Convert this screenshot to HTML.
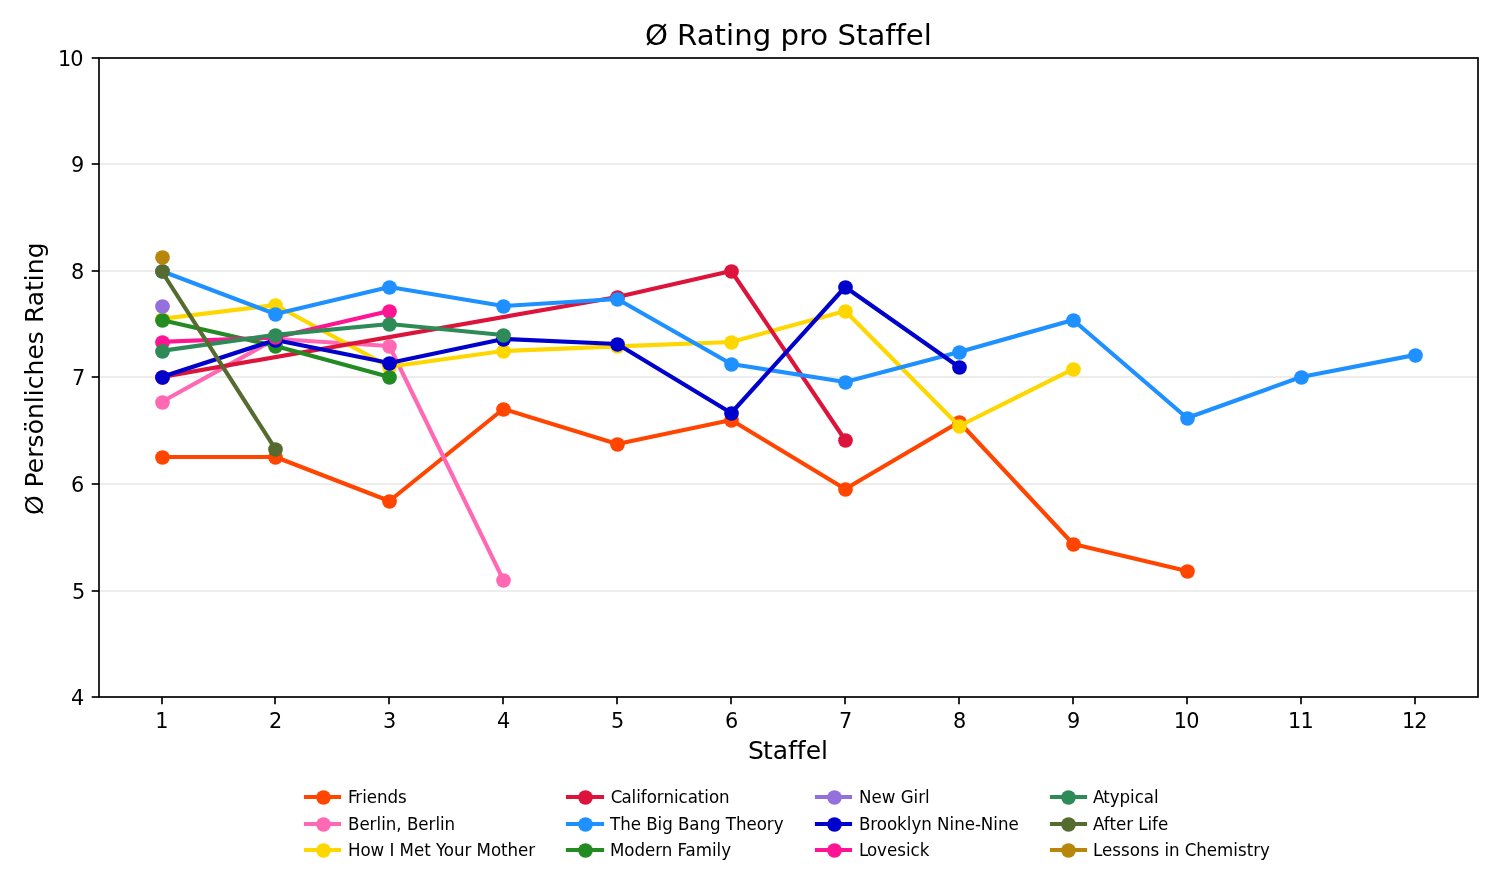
<!DOCTYPE html>
<html lang="de"><head><meta charset="utf-8"><title>Ø Rating pro Staffel</title>
<style>html,body{margin:0;padding:0;background:#fff;overflow:hidden}svg{display:block}text{font-family:"DejaVu Sans","Liberation Sans",sans-serif;fill:#000}.tk{font-size:20.83px}.lg{font-size:16.67px}.ax{font-size:25px}.ti{font-size:29.17px}</style></head><body>
<svg width="1500" height="885" viewBox="0 0 1500 885">
<rect width="1500" height="885" fill="#fff"/>
<g stroke="#b0b0b0" stroke-opacity="0.3" stroke-width="1.67">
<line x1="99" y1="58" x2="1478" y2="58"/>
<line x1="99" y1="164" x2="1478" y2="164"/>
<line x1="99" y1="271" x2="1478" y2="271"/>
<line x1="99" y1="377" x2="1478" y2="377"/>
<line x1="99" y1="484" x2="1478" y2="484"/>
<line x1="99" y1="591" x2="1478" y2="591"/>
<line x1="99" y1="697" x2="1478" y2="697"/>
</g>
<g fill="none" stroke-width="4.17" stroke-linejoin="round" stroke-linecap="square">
<g stroke="#FF4500"><polyline points="161.50,457.00 275.45,457.00 389.40,501.00 503.35,409.00 617.30,444.00 731.25,420.00 845.20,489.00 959.15,422.00 1073.10,544.00 1187.05,571.00"/><g fill="#FF4500" stroke="none"><circle cx="162.5" cy="457.5" r="7.33"/><circle cx="275.5" cy="457.5" r="7.33"/><circle cx="389.5" cy="501.5" r="7.33"/><circle cx="503.5" cy="409.5" r="7.33"/><circle cx="617.5" cy="444.5" r="7.33"/><circle cx="731.5" cy="420.5" r="7.33"/><circle cx="845.5" cy="489.5" r="7.33"/><circle cx="959.5" cy="422.5" r="7.33"/><circle cx="1073.5" cy="544.5" r="7.33"/><circle cx="1187.5" cy="571.5" r="7.33"/></g></g>
<g stroke="#FF69B4"><polyline points="161.50,402.00 275.45,339.00 389.40,346.00 503.35,580.00"/><g fill="#FF69B4" stroke="none"><circle cx="162.5" cy="402.5" r="7.33"/><circle cx="275.5" cy="339.5" r="7.33"/><circle cx="389.5" cy="346.5" r="7.33"/><circle cx="503.5" cy="580.5" r="7.33"/></g></g>
<g stroke="#FFD700"><polyline points="161.50,318.85 275.45,305.00 389.40,366.80 503.35,351.00 617.30,346.30 731.25,342.00 845.20,311.00 959.15,426.00 1073.10,369.00"/><g fill="#FFD700" stroke="none"><circle cx="162.5" cy="319.5" r="7.33"/><circle cx="275.5" cy="305.5" r="7.33"/><circle cx="389.5" cy="367.5" r="7.33"/><circle cx="503.5" cy="351.5" r="7.33"/><circle cx="617.5" cy="346.5" r="7.33"/><circle cx="731.5" cy="342.5" r="7.33"/><circle cx="845.5" cy="311.5" r="7.33"/><circle cx="959.5" cy="426.5" r="7.33"/><circle cx="1073.5" cy="369.5" r="7.33"/></g></g>
<g stroke="#DC143C"><polyline points="161.50,377.00 617.30,297.00 731.25,271.00 845.20,440.00"/><g fill="#DC143C" stroke="none"><circle cx="162.5" cy="377.5" r="7.33"/><circle cx="617.5" cy="297.5" r="7.33"/><circle cx="731.5" cy="271.5" r="7.33"/><circle cx="845.5" cy="440.5" r="7.33"/></g></g>
<g stroke="#1E90FF"><polyline points="161.50,271.00 275.45,314.00 389.40,287.00 503.35,306.00 617.30,299.00 731.25,364.00 845.20,382.00 959.15,352.00 1073.10,320.00 1187.05,418.00 1301.00,377.00 1414.95,355.00"/><g fill="#1E90FF" stroke="none"><circle cx="162.5" cy="271.5" r="7.33"/><circle cx="275.5" cy="314.5" r="7.33"/><circle cx="389.5" cy="287.5" r="7.33"/><circle cx="503.5" cy="306.5" r="7.33"/><circle cx="617.5" cy="299.5" r="7.33"/><circle cx="731.5" cy="364.5" r="7.33"/><circle cx="845.5" cy="382.5" r="7.33"/><circle cx="959.5" cy="352.5" r="7.33"/><circle cx="1073.5" cy="320.5" r="7.33"/><circle cx="1187.5" cy="418.5" r="7.33"/><circle cx="1301.5" cy="377.5" r="7.33"/><circle cx="1415.5" cy="355.5" r="7.33"/></g></g>
<g stroke="#228B22"><polyline points="161.50,320.00 275.45,346.00 389.40,377.00"/><g fill="#228B22" stroke="none"><circle cx="162.5" cy="320.5" r="7.33"/><circle cx="275.5" cy="346.5" r="7.33"/><circle cx="389.5" cy="377.5" r="7.33"/></g></g>
<g stroke="#9370DB"><g fill="#9370DB" stroke="none"><circle cx="162.5" cy="306.5" r="7.33"/></g></g>
<g stroke="#0000CD"><polyline points="161.50,377.00 275.45,340.00 389.40,363.00 503.35,339.00 617.30,344.00 731.25,413.00 845.20,287.00 959.15,367.00"/><g fill="#0000CD" stroke="none"><circle cx="162.5" cy="377.5" r="7.33"/><circle cx="275.5" cy="340.5" r="7.33"/><circle cx="389.5" cy="363.5" r="7.33"/><circle cx="503.5" cy="339.5" r="7.33"/><circle cx="617.5" cy="344.5" r="7.33"/><circle cx="731.5" cy="413.5" r="7.33"/><circle cx="845.5" cy="287.5" r="7.33"/><circle cx="959.5" cy="367.5" r="7.33"/></g></g>
<g stroke="#FF1493"><polyline points="161.50,341.92 275.45,337.48 389.40,311.00"/><g fill="#FF1493" stroke="none"><circle cx="162.5" cy="342.5" r="7.33"/><circle cx="275.5" cy="337.5" r="7.33"/><circle cx="389.5" cy="311.5" r="7.33"/></g></g>
<g stroke="#2E8B57"><polyline points="161.50,350.80 275.45,334.80 389.40,324.00 503.35,335.00"/><g fill="#2E8B57" stroke="none"><circle cx="162.5" cy="351.5" r="7.33"/><circle cx="275.5" cy="335.5" r="7.33"/><circle cx="389.5" cy="324.5" r="7.33"/><circle cx="503.5" cy="335.5" r="7.33"/></g></g>
<g stroke="#556B2F"><polyline points="161.50,271.00 275.45,449.00"/><g fill="#556B2F" stroke="none"><circle cx="162.5" cy="271.5" r="7.33"/><circle cx="275.5" cy="449.5" r="7.33"/></g></g>
<g stroke="#B8860B"><g fill="#B8860B" stroke="none"><circle cx="162.5" cy="257.5" r="7.33"/></g></g>
</g>
<g stroke="#000" stroke-width="1.67">
<line x1="162" y1="697" x2="162" y2="704.3"/>
<line x1="275" y1="697" x2="275" y2="704.3"/>
<line x1="389" y1="697" x2="389" y2="704.3"/>
<line x1="503" y1="697" x2="503" y2="704.3"/>
<line x1="617" y1="697" x2="617" y2="704.3"/>
<line x1="731" y1="697" x2="731" y2="704.3"/>
<line x1="845" y1="697" x2="845" y2="704.3"/>
<line x1="959" y1="697" x2="959" y2="704.3"/>
<line x1="1073" y1="697" x2="1073" y2="704.3"/>
<line x1="1187" y1="697" x2="1187" y2="704.3"/>
<line x1="1301" y1="697" x2="1301" y2="704.3"/>
<line x1="1415" y1="697" x2="1415" y2="704.3"/>
<line x1="99" y1="58" x2="91.7" y2="58"/>
<line x1="99" y1="164" x2="91.7" y2="164"/>
<line x1="99" y1="271" x2="91.7" y2="271"/>
<line x1="99" y1="377" x2="91.7" y2="377"/>
<line x1="99" y1="484" x2="91.7" y2="484"/>
<line x1="99" y1="591" x2="91.7" y2="591"/>
<line x1="99" y1="697" x2="91.7" y2="697"/>
</g>
<rect x="99" y="58" width="1379" height="639" fill="none" stroke="#000" stroke-width="1.67" stroke-linejoin="miter"/>
<g class="tk" text-anchor="middle">
<text x="161.78" y="728.05">1</text>
<text x="275.66" y="728.05">2</text>
<text x="389.67" y="728.05">3</text>
<text x="503.69" y="728.05">4</text>
<text x="617.72" y="728.05">5</text>
<text x="731.61" y="728.05">6</text>
<text x="845.59" y="728.05">7</text>
<text x="959.70" y="728.05">8</text>
<text x="1073.73" y="728.05">9</text>
<text x="1186.73" y="728.05" dx="0 -0.8">10</text>
<text x="1300.80" y="728.05" dx="0 -0.8">11</text>
<text x="1414.77" y="728.05" dx="0 -0.8">12</text>
</g>
<g class="tk" text-anchor="end">
<text x="83.63" y="65.98" dx="0 -0.9">10</text>
<text x="84.28" y="171.98">9</text>
<text x="84.30" y="278.98">8</text>
<text x="85.19" y="384.98">7</text>
<text x="84.21" y="491.98">6</text>
<text x="85.37" y="598.98">5</text>
<text x="84.19" y="704.98">4</text>
</g>
<text class="ti" x="644.96 667.84 677.08 696.71 714.58 726.08 734.21 752.71 771.21 780.46 798.96 810.34 828.21 837.46 855.96 867.46 885.34 895.58 905.84 923.71" y="45">Ø Rating pro Staffel</text>
<text class="ax" x="748.10 762.98 772.72 787.98 796.85 805.72 821.10" y="758.8">Staffel</text>
<text class="ax" transform="translate(43,515.01) rotate(-90)" x="0.00 19.62 27.62 41.88 57.25 67.62 80.75 96.00 111.88 118.88 125.88 139.62 155.50 170.88 184.00 192.00 208.88 224.12 233.88 240.88 256.75">Ø Persönliches Rating</text>
<g class="lg">
<line x1="303.92" y1="797" x2="341.08" y2="797" stroke="#FF4500" stroke-width="4.17"/>
<circle cx="323.5" cy="797.5" r="7.33" fill="#FF4500"/>
<text transform="translate(347.03,803) scale(1,1.070)" x="1.00 8.25 15.12 19.75 30.00 40.50 51.00">Friends</text>
<line x1="303.92" y1="824" x2="341.08" y2="824" stroke="#FF69B4" stroke-width="4.17"/>
<circle cx="323.5" cy="824.5" r="7.33" fill="#FF69B4"/>
<text transform="translate(348.01,830) scale(1,1.070)" x="0.00 11.38 21.62 28.50 33.12 37.75 48.25 53.62 58.88 70.25 80.50 87.38 92.00 96.62">Berlin, Berlin</text>
<line x1="303.92" y1="850" x2="341.08" y2="850" stroke="#FFD700" stroke-width="4.17"/>
<circle cx="323.5" cy="850.5" r="7.33" fill="#FFD700"/>
<text transform="translate(347.92,856) scale(1,1.070)" x="0.00 12.50 22.62 36.25 41.50 46.38 51.62 66.00 76.25 82.75 88.00 95.88 106.00 116.50 123.38 128.62 143.00 153.12 159.62 170.12 180.38">How I Met Your Mother</text>
<line x1="565.92" y1="797" x2="604.08" y2="797" stroke="#DC143C" stroke-width="4.17"/>
<circle cx="585.5" cy="797.5" r="7.33" fill="#DC143C"/>
<text transform="translate(609.95,803) scale(1,1.070)" x="0.90 11.50 21.62 26.25 30.88 36.75 46.88 53.50 64.00 68.62 77.75 87.88 94.38 99.00 109.12">Californication</text>
<line x1="565.92" y1="824" x2="604.08" y2="824" stroke="#1E90FF" stroke-width="4.17"/>
<circle cx="585.5" cy="824.5" r="7.33" fill="#1E90FF"/>
<text transform="translate(609.97,830) scale(1,1.070)" x="0.00 10.25 20.75 31.00 36.25 47.62 52.25 62.75 68.00 79.38 89.50 100.00 110.50 115.75 126.00 136.50 146.75 156.88 163.75">The Big Bang Theory</text>
<line x1="565.92" y1="850" x2="604.08" y2="850" stroke="#228B22" stroke-width="4.17"/>
<circle cx="585.5" cy="850.5" r="7.33" fill="#228B22"/>
<text transform="translate(609.97,856) scale(1,1.070)" x="0.00 14.38 24.50 35.00 45.25 51.88 62.38 67.62 75.62 85.75 102.00 106.62 111.25">Modern Family</text>
<line x1="814.92" y1="797" x2="852.08" y2="797" stroke="#9370DB" stroke-width="4.17"/>
<circle cx="834.5" cy="797.5" r="7.33" fill="#9370DB"/>
<text transform="translate(859.12,803) scale(1,1.070)" x="0.00 12.50 22.75 36.38 41.62 54.50 59.12 66.00">New Girl</text>
<line x1="814.92" y1="824" x2="852.08" y2="824" stroke="#0000CD" stroke-width="4.17"/>
<circle cx="834.5" cy="824.5" r="7.33" fill="#0000CD"/>
<text transform="translate(858.93,830) scale(1,1.070)" x="0.00 11.38 17.88 28.00 38.12 47.88 52.50 62.38 72.88 78.12 90.62 95.25 105.75 116.00 121.88 134.38 139.00 149.50">Brooklyn Nine-Nine</text>
<line x1="814.92" y1="850" x2="852.08" y2="850" stroke="#FF1493" stroke-width="4.17"/>
<circle cx="834.5" cy="850.5" r="7.33" fill="#FF1493"/>
<text transform="translate(857.99,856) scale(1,1.070)" x="1.00 9.00 19.12 29.00 39.25 48.00 52.62 61.75">Lovesick</text>
<line x1="1049.92" y1="797" x2="1087.08" y2="797" stroke="#2E8B57" stroke-width="4.17"/>
<circle cx="1068.5" cy="797.5" r="7.33" fill="#2E8B57"/>
<text transform="translate(1092.11,803) scale(1,1.070)" x="1.00 11.12 17.62 27.50 38.00 42.62 51.75 61.88">Atypical</text>
<line x1="1049.92" y1="824" x2="1087.08" y2="824" stroke="#556B2F" stroke-width="4.17"/>
<circle cx="1068.5" cy="824.5" r="7.33" fill="#556B2F"/>
<text transform="translate(1093.01,830) scale(1,1.070)" x="0.00 10.75 16.38 22.88 33.12 40.00 45.25 54.50 59.12 65.00">After Life</text>
<line x1="1049.92" y1="850" x2="1087.08" y2="850" stroke="#B8860B" stroke-width="4.17"/>
<circle cx="1068.5" cy="850.5" r="7.33" fill="#B8860B"/>
<text transform="translate(1093.07,856) scale(1,1.070)" x="0.00 9.00 19.25 28.00 36.75 46.88 57.38 66.12 71.38 76.00 86.50 91.75 103.25 113.75 124.00 140.25 144.88 153.62 160.12 167.00">Lessons in Chemistry</text>
</g>
</svg></body></html>
